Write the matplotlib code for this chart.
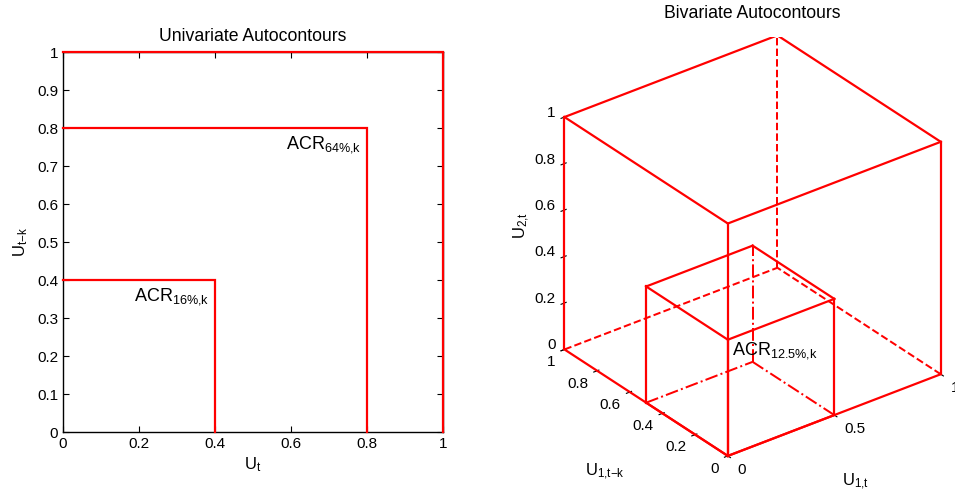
import numpy as np
import matplotlib
matplotlib.use('Agg')
import matplotlib.pyplot as plt
from matplotlib.ticker import NullFormatter

plt.rcParams['font.family'] = ['Liberation Sans', 'DejaVu Sans']
plt.rcParams['mathtext.default'] = 'regular'

# univariate autocontours: square side lengths and coverage labels
uni_levels = [1.0, 0.8, 0.4]
uni_labels = ['', '64%', '16%']
uni_xticks = [0, 0.2, 0.4, 0.6, 0.8, 1]
uni_yticks = [0, 0.1, 0.2, 0.3, 0.4, 0.5, 0.6, 0.7, 0.8, 0.9, 1]

# bivariate autocontours: cube side lengths and hidden-edge styles
biv_sides = [1.0, 0.5]
biv_hidden = ['--', '-.']
biv_label = '12.5%'
biv_xticks = [0, 0.5, 1]
biv_yticks = [0, 0.2, 0.4, 0.6, 0.8, 1]
biv_zticks = [0, 0.2, 0.4, 0.6, 0.8, 1]


def fmt(v):
    return '%g' % v


def acr(lab):
    return 'ACR$_{' + lab.replace('%', r'\%') + '{,}k}$'


red = (1, 0, 0)
lw = 1.6

fig = plt.figure(figsize=(9.55, 4.94), dpi=100)

# ---- left: univariate
ax1 = fig.add_axes([0.066, 0.1255, 0.398, 0.769])
for lev, lab in zip(uni_levels, uni_labels):
    ax1.plot([0, lev, lev], [lev, lev, 0], color=red, lw=lw, solid_joinstyle='miter', clip_on=False, zorder=3)
    if lab:
        ax1.text(lev - 0.015, lev - 0.053, acr(lab), ha='right', va='baseline', fontsize=13)
ax1.set_xlim(0, 1)
ax1.set_ylim(0, 1)
ax1.set_xticks(uni_xticks)
ax1.set_xticklabels([fmt(v) for v in uni_xticks])
ax1.set_yticks(uni_yticks)
ax1.set_yticklabels([fmt(v) for v in uni_yticks])
ax1.tick_params(direction='in', top=True, right=True, length=4, labelsize=11, width=0.8)
for sp in ax1.spines.values():
    sp.set_linewidth(1.0)
ax1.set_xlabel('$U_t$', fontsize=12, labelpad=3)
ax1.set_ylabel('$U_{t{-}k}$', fontsize=12, labelpad=5)
ax1.set_title('Univariate Autocontours', fontsize=12.7, pad=8)

# ---- right: bivariate
ax2 = fig.add_axes([0.557, 0.016, 0.45, 0.95], projection='3d', proj_type='ortho')
ax2.view_init(elev=30, azim=-127.5)
ax2.set_box_aspect((1, 1, 1), zoom=1.05)

for s, hid in zip(biv_sides, biv_hidden):
    # visible edges
    edges_vis = [
        ([0, 0], [0, 0], [0, s]), ([s, s], [0, 0], [0, s]), ([0, 0], [s, s], [0, s]),
        ([0, s], [0, 0], [0, 0]), ([0, 0], [0, s], [0, 0]),
        ([0, s], [0, 0], [s, s]), ([0, 0], [0, s], [s, s]),
        ([s, s], [0, s], [s, s]), ([0, s], [s, s], [s, s]),
    ]
    # hidden edges
    edges_hid = [
        ([s, s], [s, s], [0, s]), ([s, s], [0, s], [0, 0]), ([0, s], [s, s], [0, 0]),
    ]
    for xs, ys, zs in edges_vis:
        ax2.plot(xs, ys, zs, color=red, lw=lw)
    for xs, ys, zs in edges_hid:
        ax2.plot(xs, ys, zs, color=red, lw=lw * 0.9, ls=hid)

ax2.text(0.02, 0.0, 0.43, acr(biv_label), ha='left', va='baseline', fontsize=13)

ax2.set_xlim(0, 1)
ax2.set_ylim(0, 1)
ax2.set_zlim(0, 1)
ax2.set_xticks(biv_xticks)
ax2.set_yticks(biv_yticks)
ax2.set_zticks(biv_zticks)
ax2.grid(False)
for axis in (ax2.xaxis, ax2.yaxis, ax2.zaxis):
    axis.pane.set_fill(False)
    axis.pane.set_edgecolor((1, 1, 1, 0))
    axis.line.set_color((1, 1, 1, 0))
    axis.set_major_formatter(NullFormatter())
    axis.set_tick_params(labelbottom=False, labeltop=False)

# tick labels placed beside the cube edges, MATLAB style
for v in biv_xticks:
    ax2.text(v, -0.06, -0.032, fmt(v), ha='left', va='center', fontsize=11)
for v in biv_yticks:
    ax2.text(-0.0425, v, -0.04, fmt(v), ha='right', va='center', fontsize=11)
for v in biv_zticks:
    ax2.text(0, 1.055, v - 0.008, fmt(v), ha='right', va='center', fontsize=11)

fig.text(605 / 955, 1 - 472 / 494, '$U_{1{,}t{-}k}$', fontsize=12, ha='center', va='center')
fig.text(856 / 955, 1 - 482 / 494, '$U_{1{,}t}$', fontsize=12, ha='center', va='center')
fig.text(522 / 955, 1 - 225 / 494, '$U_{2{,}t}$', fontsize=12, ha='center', va='center', rotation=90)
fig.text(752 / 955, 1 - 13 / 494, 'Bivariate Autocontours', fontsize=12.7, ha='center', va='center')

fig.savefig('out.png', dpi=100)
